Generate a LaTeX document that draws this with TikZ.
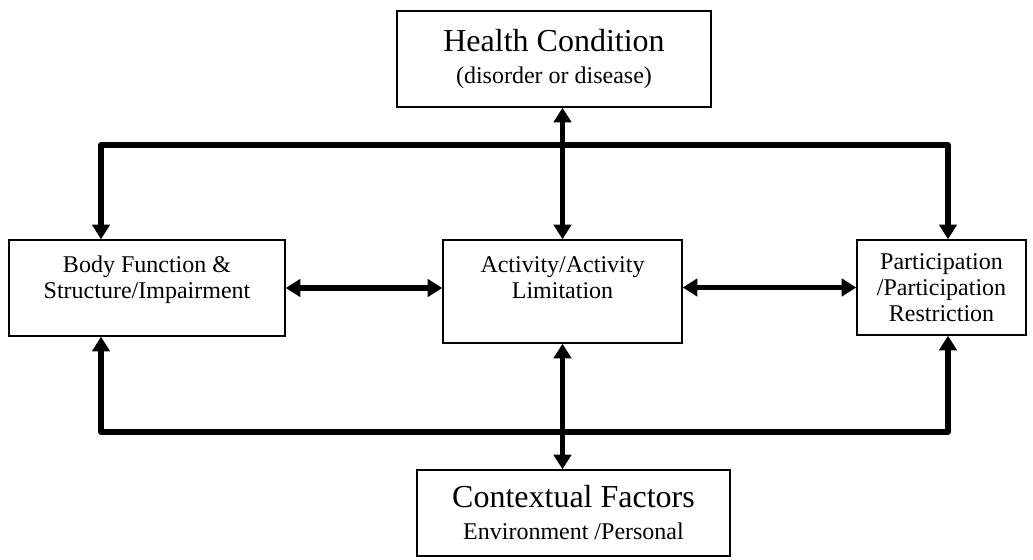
\documentclass[tikz,border=0pt]{standalone}
\usepackage{fontspec}
\setmainfont{Liberation Serif}
\usetikzlibrary{arrows.meta,positioning}

\tikzset{
  box/.style={draw, line width=1.1pt, align=center, inner sep=0pt,
    font=\fontsize{18}{19.5}\selectfont},
  conn/.style={line width=4pt, line join=round,
    {Triangle[length=11pt,width=13pt]}-{Triangle[length=11pt,width=13pt]}},
}
\newcommand{\bigline}[1]{{\fontsize{24}{24}\selectfont #1}}

\begin{document}
\begin{tikzpicture}[x=0.75pt,y=-0.75pt]
\useasboundingbox (0,0) rectangle (1033,560);
% the five boxes
\node[box, minimum width=235.5pt, minimum height=72pt] (health) at (554,59)
  {\bigline{Health Condition}\\[4.5pt] (disorder or disease)};
\node[box, minimum width=207pt, minimum height=72pt, text depth=16pt] (body) at (147,288)
  {Body Function \&\\ Structure/Impairment};
\node[box, minimum width=179.25pt, minimum height=77.25pt, text depth=21pt] (activity) at (562.5,291.5)
  {Activity/Activity\\ Limitation};
\node[box, minimum width=126.75pt, minimum height=71.25pt] (particip) at (941.5,287.5)
  {Participation\\ /Participation\\ Restriction};
\node[box, minimum width=234.75pt, minimum height=64.5pt] (context) at (573.5,513)
  {\bigline{Contextual Factors}\\[4.5pt] Environment /Personal};
% corners of the two loops
\coordinate (tl) at (101,145);
\coordinate (tr) at (948,145);
\coordinate (bl) at (101,432);
\coordinate (br) at (948,432);
% connectors
\draw[conn] (tl |- body.north) -- (tl) -- (tr) -- (tr |- particip.north);
\draw[conn] (bl |- body.south) -- (bl) -- (br) -- (br |- particip.south);
\draw[conn] (activity.north |- health.south) -- (activity.north);
\draw[conn] (activity.south) -- (activity.south |- context.north);
\draw[conn] (body.east) -- (body.east -| activity.west);
\draw[conn] (particip.west -| activity.east) -- (particip.west);
\end{tikzpicture}
\end{document}
